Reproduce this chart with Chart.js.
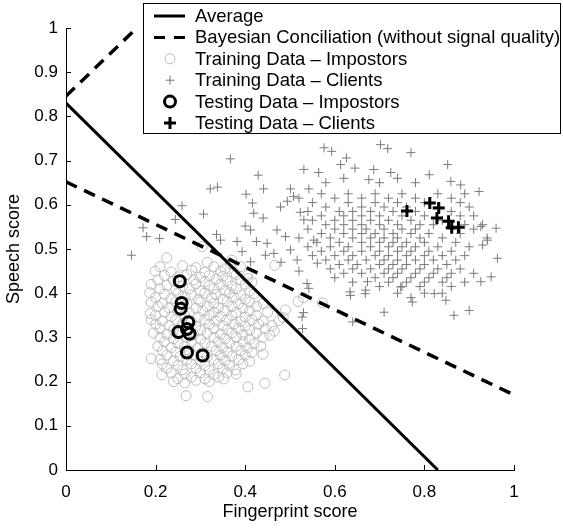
<!DOCTYPE html>
<html>
<head>
<meta charset="utf-8">
<script src="https://cdn.jsdelivr.net/npm/chart.js@4.4.1/dist/chart.umd.min.js"></script>
<style>
  html, body { margin: 0; padding: 0; background: #fff; }
  #wrap { width: 563px; height: 529px; }
</style>
</head>
<body>
<div id="wrap"><canvas id="chart"></canvas></div>
<script>
// Axis ticks
const xTicks = [0, 0.2, 0.4, 0.6, 0.8, 1];
const yTicks = [0, 0.1, 0.2, 0.3, 0.4, 0.5, 0.6, 0.7, 0.8, 0.9, 1];

const legendLabels = [
  'Average',
  'Bayesian Conciliation (without signal quality)',
  'Training Data \u2013 Impostors',
  'Training Data \u2013 Clients',
  'Testing Data \u2013 Impostors',
  'Testing Data \u2013 Clients'
];

// Decision boundaries (fingerprint, speech)
const averageLine = [[0, 0.83], [0.83, 0]];
const bayesLower = [[0, 0.652], [1, 0.17]];
const bayesUpper = [[0, 0.846], [0.158, 1.0]];

// Training data - impostors (fingerprint, speech)
const trainImpostors = [
  [0.225,0.48],[0.304,0.505],[0.37,0.475],[0.315,0.47],[0.367,0.467],[0.466,0.463],
  [0.21,0.46],[0.26,0.462],[0.29,0.458],[0.33,0.46],[0.355,0.455],[0.39,0.46],
  [0.199,0.45],[0.235,0.448],[0.28,0.452],[0.31,0.447],[0.345,0.45],[0.375,0.446],[0.406,0.433],
  [0.22,0.44],[0.25,0.437],[0.27,0.442],[0.30,0.436],[0.32,0.44],[0.35,0.438],[0.38,0.442],[0.405,0.44],
  [0.205,0.43],[0.24,0.428],[0.285,0.43],[0.31,0.426],[0.335,0.432],[0.36,0.428],[0.39,0.43],[0.415,0.425],
  [0.19,0.42],[0.225,0.418],[0.26,0.415],[0.29,0.421],[0.32,0.417],[0.345,0.42],[0.37,0.416],[0.40,0.42],
  [0.21,0.41],[0.245,0.407],[0.275,0.41],[0.30,0.405],[0.33,0.41],[0.355,0.406],[0.38,0.41],[0.41,0.405],
  [0.187,0.401],[0.22,0.398],[0.25,0.4],[0.28,0.396],[0.31,0.4],[0.335,0.397],[0.365,0.401],[0.39,0.396],[0.42,0.399],
  [0.2,0.39],[0.235,0.388],[0.265,0.391],[0.295,0.386],[0.325,0.39],[0.35,0.387],[0.375,0.39],[0.40,0.386],[0.53,0.39],
  [0.19,0.38],[0.215,0.377],[0.245,0.38],[0.27,0.376],[0.30,0.38],[0.33,0.377],[0.36,0.381],[0.385,0.376],[0.41,0.38],[0.44,0.377],[0.518,0.381],[0.572,0.378],
  [0.205,0.37],[0.23,0.367],[0.26,0.37],[0.29,0.366],[0.315,0.37],[0.34,0.367],[0.37,0.37],[0.395,0.366],[0.425,0.37],[0.49,0.362],
  [0.188,0.354],[0.22,0.357],[0.25,0.36],[0.275,0.356],[0.305,0.36],[0.33,0.357],[0.355,0.36],[0.38,0.356],[0.41,0.36],[0.45,0.357],
  [0.2,0.35],[0.235,0.347],[0.265,0.35],[0.295,0.346],[0.32,0.35],[0.345,0.347],[0.37,0.35],[0.40,0.346],[0.425,0.35],[0.485,0.345],
  [0.19,0.34],[0.215,0.337],[0.245,0.34],[0.28,0.336],[0.31,0.34],[0.335,0.337],[0.36,0.34],[0.39,0.336],[0.415,0.34],[0.44,0.337],[0.475,0.338],
  [0.2,0.33],[0.23,0.327],[0.26,0.33],[0.29,0.326],[0.32,0.33],[0.35,0.327],[0.375,0.33],[0.40,0.326],[0.43,0.33],[0.46,0.327],
  [0.21,0.32],[0.24,0.317],[0.27,0.32],[0.30,0.316],[0.33,0.32],[0.36,0.317],[0.385,0.32],[0.41,0.316],[0.445,0.32],[0.465,0.314],
  [0.195,0.31],[0.225,0.307],[0.255,0.31],[0.285,0.306],[0.315,0.31],[0.345,0.307],[0.37,0.31],[0.395,0.306],[0.425,0.31],[0.455,0.305],
  [0.21,0.3],[0.24,0.297],[0.27,0.3],[0.30,0.296],[0.33,0.3],[0.355,0.297],[0.38,0.3],[0.41,0.296],[0.44,0.3],
  [0.22,0.29],[0.25,0.287],[0.28,0.29],[0.31,0.286],[0.34,0.29],[0.365,0.287],[0.395,0.29],[0.42,0.286],
  [0.205,0.28],[0.235,0.277],[0.265,0.28],[0.295,0.276],[0.325,0.28],[0.35,0.277],[0.38,0.28],[0.405,0.276],[0.435,0.28],
  [0.215,0.27],[0.245,0.267],[0.275,0.27],[0.305,0.266],[0.335,0.27],[0.36,0.267],[0.39,0.27],[0.415,0.266],[0.44,0.262],
  [0.225,0.26],[0.255,0.257],[0.285,0.26],[0.315,0.256],[0.345,0.26],[0.37,0.257],[0.40,0.26],
  [0.19,0.252],[0.21,0.25],[0.24,0.247],[0.27,0.25],[0.30,0.246],[0.33,0.25],[0.355,0.247],[0.385,0.25],[0.41,0.246],
  [0.215,0.24],[0.25,0.237],[0.28,0.24],[0.31,0.236],[0.34,0.24],[0.365,0.237],[0.395,0.24],
  [0.225,0.23],[0.26,0.227],[0.29,0.23],[0.32,0.226],[0.35,0.23],[0.378,0.226],
  [0.235,0.22],[0.265,0.217],[0.30,0.22],[0.33,0.216],[0.36,0.22],[0.38,0.217],
  [0.214,0.215],[0.25,0.207],[0.28,0.21],[0.31,0.206],[0.34,0.21],[0.352,0.206],
  [0.24,0.2],[0.265,0.197],[0.29,0.203],[0.32,0.2],
  [0.406,0.188],[0.444,0.196],[0.488,0.215],[0.268,0.168],[0.316,0.166]
];

// Training data - clients (fingerprint, speech)
const trainClients = [
  [0.146,0.486],[0.172,0.548],[0.18,0.528],[0.209,0.524],[0.244,0.567],[0.259,0.598],[0.307,0.579],
  [0.322,0.636],[0.338,0.64],[0.367,0.704],[0.336,0.533],[0.345,0.52],[0.382,0.517],[0.40,0.552],
  [0.412,0.543],[0.425,0.517],[0.449,0.513],[0.393,0.494],[0.412,0.471],[0.445,0.486],[0.419,0.581],
  [0.44,0.57],[0.402,0.624],[0.416,0.604],[0.429,0.667],[0.441,0.636],
  [0.501,0.636],[0.542,0.636],[0.508,0.619],[0.494,0.608],[0.479,0.595],[0.523,0.583],[0.471,0.543],
  [0.49,0.528],[0.531,0.566],[0.553,0.52],[0.464,0.49],[0.501,0.498],[0.516,0.475],[0.561,0.468],
  [0.542,0.411],[0.527,0.346],[0.53,0.356],[0.528,0.32],[0.538,0.422],[0.52,0.45],[0.48,0.47],
  [0.576,0.729],[0.593,0.721],[0.626,0.706],[0.613,0.691],[0.702,0.736],[0.718,0.727],[0.77,0.718],
  [0.531,0.68],[0.564,0.673],[0.645,0.683],[0.687,0.68],[0.676,0.657],[0.725,0.673],[0.811,0.668],
  [0.852,0.691],[0.859,0.653],[0.881,0.645],[0.922,0.63],[0.74,0.66],[0.62,0.66],[0.58,0.65],[0.70,0.65],[0.78,0.65],
  [0.96,0.547],[0.963,0.479],[0.949,0.437],[0.926,0.426],[0.866,0.35],[0.9,0.361],[0.848,0.384],
  [0.822,0.399],[0.773,0.38],[0.71,0.357],[0.747,0.414],[0.941,0.52],[0.93,0.509],[0.926,0.551],
  [0.673,0.426],[0.669,0.407],[0.635,0.395],[0.64,0.335],[0.634,0.403],[0.668,0.399],
  [0.57,0.625],[0.63,0.625],[0.69,0.625],[0.75,0.625],[0.83,0.625],[0.89,0.625],
  [0.52,0.615],[0.60,0.615],[0.66,0.615],[0.72,0.615],[0.78,0.615],[0.86,0.615],
  [0.55,0.605],[0.63,0.605],[0.69,0.605],[0.74,0.605],[0.80,0.605],[0.88,0.605],
  [0.58,0.595],[0.66,0.595],[0.71,0.595],[0.76,0.595],[0.83,0.595],[0.90,0.595],
  [0.54,0.585],[0.61,0.585],[0.64,0.585],[0.68,0.585],[0.73,0.585],[0.78,0.585],[0.86,0.585],
  [0.57,0.575],[0.62,0.575],[0.66,0.575],[0.70,0.575],[0.75,0.575],[0.80,0.575],[0.88,0.575],[0.91,0.575],
  [0.55,0.565],[0.60,0.565],[0.64,0.565],[0.68,0.565],[0.72,0.565],[0.77,0.565],[0.84,0.565],
  [0.58,0.555],[0.62,0.555],[0.66,0.555],[0.70,0.555],[0.74,0.555],[0.79,0.555],[0.82,0.555],[0.89,0.555],[0.93,0.555],
  [0.54,0.545],[0.60,0.545],[0.64,0.545],[0.67,0.545],[0.71,0.545],[0.75,0.545],[0.78,0.545],[0.86,0.545],[0.91,0.545],
  [0.57,0.535],[0.62,0.535],[0.66,0.535],[0.69,0.535],[0.73,0.535],[0.77,0.535],[0.81,0.535],[0.88,0.535],
  [0.52,0.525],[0.59,0.525],[0.64,0.525],[0.68,0.525],[0.71,0.525],[0.74,0.525],[0.79,0.525],[0.84,0.525],[0.94,0.525],
  [0.56,0.515],[0.61,0.515],[0.66,0.515],[0.70,0.515],[0.73,0.515],[0.76,0.515],[0.80,0.515],[0.87,0.515],
  [0.54,0.505],[0.59,0.505],[0.63,0.505],[0.68,0.505],[0.72,0.505],[0.75,0.505],[0.78,0.505],[0.83,0.505],[0.90,0.505],
  [0.57,0.495],[0.62,0.495],[0.66,0.495],[0.70,0.495],[0.74,0.495],[0.77,0.495],[0.81,0.495],[0.86,0.495],
  [0.55,0.485],[0.60,0.485],[0.64,0.485],[0.69,0.485],[0.72,0.485],[0.76,0.485],[0.80,0.485],[0.84,0.485],[0.89,0.485],
  [0.58,0.475],[0.63,0.475],[0.67,0.475],[0.71,0.475],[0.74,0.475],[0.78,0.475],[0.82,0.475],[0.87,0.475],
  [0.61,0.465],[0.65,0.465],[0.70,0.465],[0.73,0.465],[0.76,0.465],[0.80,0.465],[0.85,0.465],
  [0.59,0.455],[0.64,0.455],[0.68,0.455],[0.72,0.455],[0.75,0.455],[0.79,0.455],[0.83,0.455],[0.88,0.455],
  [0.62,0.445],[0.66,0.445],[0.71,0.445],[0.74,0.445],[0.78,0.445],[0.82,0.445],[0.86,0.445],[0.91,0.445],
  [0.60,0.435],[0.69,0.435],[0.73,0.435],[0.77,0.435],[0.81,0.435],[0.85,0.435],
  [0.64,0.425],[0.72,0.425],[0.76,0.425],[0.80,0.425],[0.84,0.425],[0.89,0.425],
  [0.70,0.415],[0.75,0.415],[0.79,0.415],[0.86,0.415],
  [0.74,0.40],[0.80,0.40],[0.84,0.40],[0.77,0.39]
];

// Testing data
const testImpostors = [
  [0.254,0.427],[0.258,0.378],[0.256,0.365],[0.273,0.334],[0.27,0.319],
  [0.251,0.312],[0.276,0.308],[0.27,0.266],[0.305,0.259]
];
const testClients = [
  [0.761,0.586],[0.812,0.604],[0.832,0.593],[0.828,0.57],
  [0.854,0.563],[0.861,0.548],[0.876,0.549]
];

const toXY = arr => arr.map(p => ({ x: p[0], y: p[1] }));
const FONT = '"Liberation Sans", Arial, Helvetica, sans-serif';

// inward tick marks like the Matlab figure
const tickMarks = {
  id: 'tickMarks',
  afterDraw(chart) {
    const ctx = chart.ctx;
    const xs = chart.scales.x, ys = chart.scales.y;
    const area = chart.chartArea;
    ctx.save();
    ctx.strokeStyle = '#000';
    ctx.lineWidth = 1;
    ctx.beginPath();
    xTicks.forEach(v => {
      const px = Math.round(xs.getPixelForValue(v)) + 0.5;
      ctx.moveTo(px, area.bottom);
      ctx.lineTo(px, area.bottom - 5);
    });
    yTicks.forEach(v => {
      const py = Math.round(ys.getPixelForValue(v)) + 0.5;
      ctx.moveTo(area.left, py);
      ctx.lineTo(area.left + 5, py);
    });
    ctx.stroke();
    ctx.restore();
  }
};

// boxed legend drawn over the plot
const legendBox = {
  id: 'legendBox',
  afterDraw(chart) {
    const ctx = chart.ctx;
    ctx.save();
    ctx.fillStyle = '#fff';
    ctx.fillRect(143.5, 3.5, 417, 130);
    ctx.strokeStyle = '#000';
    ctx.lineWidth = 1;
    ctx.strokeRect(143.5, 3.5, 417, 130);

    const top = 16, step = 21.4, mx = 170;
    legendLabels.forEach((label, i) => {
      const y = top + i * step;
      ctx.save();
      if (i === 0 || i === 1) {
        ctx.strokeStyle = '#000';
        ctx.lineWidth = 3;
        ctx.setLineDash(i === 1 ? [11, 9] : []);
        ctx.beginPath();
        ctx.moveTo(154, y);
        ctx.lineTo(185, y);
        ctx.stroke();
      } else if (i === 2) {
        ctx.strokeStyle = '#bdbdbd';
        ctx.lineWidth = 1;
        ctx.beginPath();
        ctx.arc(mx, y, 5, 0, Math.PI * 2);
        ctx.stroke();
      } else if (i === 3) {
        ctx.strokeStyle = '#7a7a7a';
        ctx.lineWidth = 1;
        ctx.beginPath();
        ctx.moveTo(mx - 4.5, y); ctx.lineTo(mx + 4.5, y);
        ctx.moveTo(mx, y - 4.5); ctx.lineTo(mx, y + 4.5);
        ctx.stroke();
      } else if (i === 4) {
        ctx.strokeStyle = '#000';
        ctx.lineWidth = 3;
        ctx.beginPath();
        ctx.arc(mx, y, 5.5, 0, Math.PI * 2);
        ctx.stroke();
      } else {
        ctx.strokeStyle = '#000';
        ctx.lineWidth = 3;
        ctx.beginPath();
        ctx.moveTo(mx - 6, y); ctx.lineTo(mx + 6, y);
        ctx.moveTo(mx, y - 6); ctx.lineTo(mx, y + 6);
        ctx.stroke();
      }
      ctx.restore();
      ctx.fillStyle = '#000';
      ctx.font = '18.5px ' + FONT;
      ctx.textBaseline = 'middle';
      ctx.textAlign = 'left';
      ctx.fillText(label, 195, y + 1);
    });
    ctx.restore();
  }
};

const ctx = document.getElementById('chart').getContext('2d');
new Chart(ctx, {
  type: 'scatter',
  data: {
    datasets: [
      {
        label: legendLabels[5],
        data: toXY(testClients),
        pointStyle: 'cross',
        pointRadius: 6,
        borderColor: '#000',
        borderWidth: 3,
        order: 0
      },
      {
        label: legendLabels[4],
        data: toXY(testImpostors),
        pointStyle: 'circle',
        pointRadius: 5.5,
        borderColor: '#000',
        backgroundColor: 'rgba(0,0,0,0)',
        borderWidth: 3,
        order: 1
      },
      {
        label: legendLabels[0],
        data: toXY(averageLine),
        showLine: true,
        pointRadius: 0,
        borderColor: '#000',
        borderWidth: 3,
        order: 2
      },
      {
        label: legendLabels[1],
        data: toXY(bayesLower),
        showLine: true,
        pointRadius: 0,
        borderColor: '#000',
        borderWidth: 3.5,
        borderDash: [12, 8],
        order: 2
      },
      {
        label: legendLabels[1],
        data: toXY(bayesUpper),
        showLine: true,
        pointRadius: 0,
        borderColor: '#000',
        borderWidth: 3.5,
        borderDash: [12, 8],
        order: 2
      },
      {
        label: legendLabels[3],
        data: toXY(trainClients),
        pointStyle: 'cross',
        pointRadius: 4.5,
        borderColor: '#7a7a7a',
        borderWidth: 1,
        order: 3
      },
      {
        label: legendLabels[2],
        data: toXY(trainImpostors),
        pointStyle: 'circle',
        pointRadius: 5,
        borderColor: '#bdbdbd',
        backgroundColor: 'rgba(0,0,0,0)',
        borderWidth: 1,
        order: 4
      }
    ]
  },
  options: {
    responsive: true,
    maintainAspectRatio: false,
    animation: false,
    events: [],
    layout: { padding: { left: 0, top: 28, right: 49, bottom: 0 } },
    plugins: {
      legend: { display: false },
      tooltip: { enabled: false }
    },
    scales: {
      x: {
        type: 'linear',
        min: 0,
        max: 1,
        afterFit: s => { s.height = 59; },
        afterBuildTicks: s => { s.ticks = xTicks.map(v => ({ value: v })); },
        grid: { display: false, drawTicks: false },
        border: { display: true, color: '#000', width: 1 },
        ticks: {
          padding: 12,
          color: '#000',
          font: { family: FONT, size: 17 },
          maxRotation: 0,
          callback: v => String(v)
        },
        title: {
          display: true,
          text: 'Fingerprint score',
          color: '#000',
          font: { family: FONT, size: 18 },
          padding: { top: 0, bottom: 6 }
        }
      },
      y: {
        type: 'linear',
        min: 0,
        max: 1,
        afterFit: s => { s.width = 66; },
        afterBuildTicks: s => { s.ticks = yTicks.map(v => ({ value: v })); },
        grid: { display: false, drawTicks: false },
        border: { display: true, color: '#000', width: 1 },
        ticks: {
          padding: 8,
          color: '#000',
          font: { family: FONT, size: 17 },
          callback: v => String(v)
        },
        title: {
          display: true,
          text: 'Speech score',
          color: '#000',
          font: { family: FONT, size: 18 },
          padding: { top: 3, bottom: 0 }
        }
      }
    }
  },
  plugins: [tickMarks, legendBox]
});
</script>
</body>
</html>
